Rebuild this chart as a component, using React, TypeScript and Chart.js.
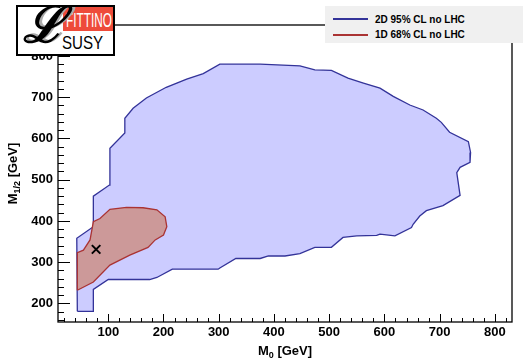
import React, { useEffect, useRef } from 'react';
import { Chart, registerables } from 'chart.js';

Chart.register(...registerables);

// 2D 95% CL contour (no LHC): M0 / M1/2 in GeV, closed polygon
const cl95M0 = [44, 43, 73, 73, 102, 103, 130, 130, 145, 169, 205, 242, 272, 302, 375, 447, 474, 504, 534, 562, 592, 616, 646, 670, 694, 703, 718, 752, 756, 755, 737, 731, 737, 706, 676, 664, 652, 649, 619, 592, 586, 550, 525, 504, 474, 447, 420, 390, 375, 331, 302, 299, 216, 188, 175, 100, 73, 73, 44];
const cl95M12 = [181, 358, 386, 460, 487, 576, 613, 649, 673, 698, 724, 744, 757, 780, 780, 776, 766, 765, 746, 734, 722, 702, 681, 669, 649, 639, 615, 592, 566, 542, 530, 517, 462, 437, 425, 412, 392, 384, 364, 368, 365, 364, 360, 336, 336, 321, 315, 315.5, 309, 309, 286, 283, 283, 263, 258, 258, 234, 181, 181];

// 1D 68% CL contour (no LHC)
const cl68M0 = [44, 44, 55, 67, 73, 85, 103, 133, 163, 188, 203, 206, 200, 185, 172, 139, 103, 73, 44];
const cl68M12 = [232, 323, 329, 354, 398, 406, 428, 433, 432, 427, 410, 386, 366, 354, 336, 317, 293, 252, 232];

// best fit point
const bestM0 = [78];
const bestM12 = [331];

const xTicks = [100, 200, 300, 400, 500, 600, 700, 800];
const yTicks = [200, 300, 400, 500, 600, 700, 800];
const xRange = [9, 831];
const yRange = [155, 875];

const legendLabels = ['2D 95% CL no LHC', '1D 68% CL no LHC'];
const xTitle = ['M', '0', ' [GeV]'];
const yTitle = ['M', '1/2', ' [GeV]'];

const BLUE_LINE = '#333399';
const BLUE_FILL = '#ccccff';
const RED_LINE = '#aa3333';
const RED_FILL = '#cc9999';
const FONT = "'Liberation Sans', Arial, Helvetica, sans-serif";

const toPts = (xs: number[], ys: number[]) => xs.map((x, i) => ({ x, y: ys[i] }));

function drawTitle(ctx: CanvasRenderingContext2D, parts: string[]) {
  const main = `bold 13px ${FONT}`;
  const sub = `bold 9px ${FONT}`;
  ctx.font = main;
  const w0 = ctx.measureText(parts[0]).width;
  const w2 = ctx.measureText(parts[2]).width;
  ctx.font = sub;
  const w1 = ctx.measureText(parts[1]).width;
  const total = w0 + w1 + w2;
  let x = -total / 2;
  ctx.textBaseline = 'alphabetic';
  ctx.textAlign = 'left';
  ctx.fillStyle = '#000';
  ctx.font = main;
  ctx.fillText(parts[0], x, 0);
  x += w0;
  ctx.font = sub;
  ctx.fillText(parts[1], x, 3);
  x += w1;
  ctx.font = main;
  ctx.fillText(parts[2], x, 0);
}

const framePlugin = {
  id: 'rootFrame',
  afterDraw(chart: any) {
    const ctx: CanvasRenderingContext2D = chart.ctx;
    const { left, right, top, bottom } = chart.chartArea;
    const xs = chart.scales.x;
    const ys = chart.scales.y;
    ctx.save();
    ctx.strokeStyle = '#000';
    ctx.lineWidth = 1.3;
    ctx.strokeRect(left, top, right - left, bottom - top);
    ctx.lineWidth = 1;
    ctx.beginPath();
    for (let v = Math.ceil(ys.min / 20) * 20; v <= ys.max; v += 20) {
      const p = Math.round(ys.getPixelForValue(v)) + 0.5;
      const len = yTicks.includes(v) ? 12 : 6;
      ctx.moveTo(left, p);
      ctx.lineTo(left + len, p);
    }
    for (let v = Math.ceil(xs.min / 20) * 20; v <= xs.max; v += 20) {
      const p = Math.round(xs.getPixelForValue(v)) + 0.5;
      const len = xTicks.includes(v) ? 8 : 4;
      ctx.moveTo(p, bottom);
      ctx.lineTo(p, bottom - len);
    }
    ctx.stroke();

    ctx.save();
    ctx.translate((left + right) / 2, 355);
    drawTitle(ctx, xTitle);
    ctx.restore();

    ctx.save();
    ctx.translate(16.5, (top + bottom) / 2);
    ctx.rotate(-Math.PI / 2);
    drawTitle(ctx, yTitle);
    ctx.restore();

    ctx.restore();
  },
};

export default function App() {
  const canvasRef = useRef<HTMLCanvasElement | null>(null);

  useEffect(() => {
    if (!canvasRef.current) return;
    const tickFont = { family: FONT, size: 13, weight: 'bold' as const };
    const chart = new Chart(canvasRef.current, {
      type: 'scatter',
      data: {
        datasets: [
          {
            label: legendLabels[0],
            data: toPts(cl95M0, cl95M12),
            showLine: true,
            fill: 'shape',
            borderColor: BLUE_LINE,
            backgroundColor: BLUE_FILL,
            borderWidth: 1.3,
            pointRadius: 0,
            pointHitRadius: 0,
            tension: 0,
            order: 3,
          },
          {
            label: legendLabels[1],
            data: toPts(cl68M0, cl68M12),
            showLine: true,
            fill: 'shape',
            borderColor: RED_LINE,
            backgroundColor: RED_FILL,
            borderWidth: 1.3,
            pointRadius: 0,
            pointHitRadius: 0,
            tension: 0,
            order: 2,
          },
          {
            label: 'best fit',
            data: toPts(bestM0, bestM12),
            showLine: false,
            pointStyle: 'crossRot',
            pointRadius: 6,
            borderWidth: 2,
            borderColor: '#000',
            backgroundColor: '#000',
            order: 1,
          },
        ],
      },
      options: {
        responsive: false,
        animation: false,
        devicePixelRatio: 1,
        events: [],
        layout: { padding: { left: 0, right: 11, top: 25, bottom: 0 } },
        plugins: {
          legend: { display: false },
          tooltip: { enabled: false },
        },
        scales: {
          x: {
            type: 'linear',
            min: xRange[0],
            max: xRange[1],
            grid: { display: false, drawTicks: false },
            border: { display: false },
            ticks: { font: tickFont, color: '#000', padding: 3, maxRotation: 0, autoSkip: false },
            afterBuildTicks: (s: any) => {
              s.ticks = xTicks.map((v) => ({ value: v }));
            },
            afterFit: (s: any) => {
              s.height = 36;
            },
          },
          y: {
            type: 'linear',
            min: yRange[0],
            max: yRange[1],
            grid: { display: false, drawTicks: false },
            border: { display: false },
            ticks: { font: tickFont, color: '#000', padding: 5, autoSkip: false },
            afterBuildTicks: (s: any) => {
              s.ticks = yTicks.map((v) => ({ value: v }));
            },
            afterFit: (s: any) => {
              s.width = 58;
            },
          },
        },
      } as any,
      plugins: [framePlugin],
    });
    return () => chart.destroy();
  }, []);

  const legendColors = [BLUE_LINE, RED_LINE];

  return (
    <div style={{ position: 'fixed', left: 0, top: 0, width: 523, height: 358, background: '#fff', overflow: 'hidden' }}>
      <canvas ref={canvasRef} width={523} height={358} style={{ display: 'block', width: 523, height: 358 }} />
      {/* legend */}
      <div style={{ position: 'absolute', left: 325, top: 6, width: 198, height: 37, background: '#f0f0f0' }}>
        {legendLabels.map((lab, i) => (
          <React.Fragment key={lab}>
            <div style={{ position: 'absolute', left: 8, top: 12 + i * 16, width: 35, height: 2, background: legendColors[i] }} />
            <span
              style={{
                position: 'absolute',
                left: 50,
                top: 8.8 + i * 14.8,
                fontFamily: FONT,
                fontWeight: 'bold',
                fontSize: 10,
                lineHeight: '10px',
                whiteSpace: 'nowrap',
                color: '#000',
              }}
            >
              {lab}
            </span>
          </React.Fragment>
        ))}
      </div>
      {/* logo */}
      <div
        style={{
          position: 'absolute',
          left: 16,
          top: 5,
          width: 99,
          height: 51,
          boxSizing: 'border-box',
          border: '2px solid #000',
          background: '#fff',
          overflow: 'hidden',
        }}
      >
        <div style={{ position: 'absolute', left: 45, top: 0, width: 50, height: 24, background: '#ee4b3a', overflow: 'hidden' }}>
          <span
            style={{
              position: 'absolute',
              left: 2.7,
              top: 2.7,
              fontFamily: FONT,
              fontSize: 20,
              lineHeight: '20px',
              color: '#fff',
              whiteSpace: 'nowrap',
              transform: 'scaleX(0.59)',
              transformOrigin: 'left top',
            }}
          >
            FITTINO
          </span>
        </div>
        <span
          style={{
            position: 'absolute',
            left: 8,
            top: -8,
            fontFamily: "'DejaVu Serif', serif",
            fontStyle: 'italic',
            fontWeight: 'bold',
            fontSize: 50,
            lineHeight: '50px',
            color: '#aaa',
          }}
        >
          ℒ
        </span>
        <span
          style={{
            position: 'absolute',
            left: 5,
            top: -7,
            fontFamily: "'DejaVu Serif', serif",
            fontStyle: 'italic',
            fontWeight: 'bold',
            fontSize: 50,
            lineHeight: '50px',
            color: '#000',
          }}
        >
          ℒ
        </span>
        <span
          style={{
            position: 'absolute',
            left: 44,
            top: 26.6,
            fontFamily: FONT,
            fontSize: 18,
            lineHeight: '18px',
            color: '#000',
            whiteSpace: 'nowrap',
            transform: 'scaleX(0.84)',
            transformOrigin: 'left top',
          }}
        >
          SUSY
        </span>
      </div>
    </div>
  );
}
